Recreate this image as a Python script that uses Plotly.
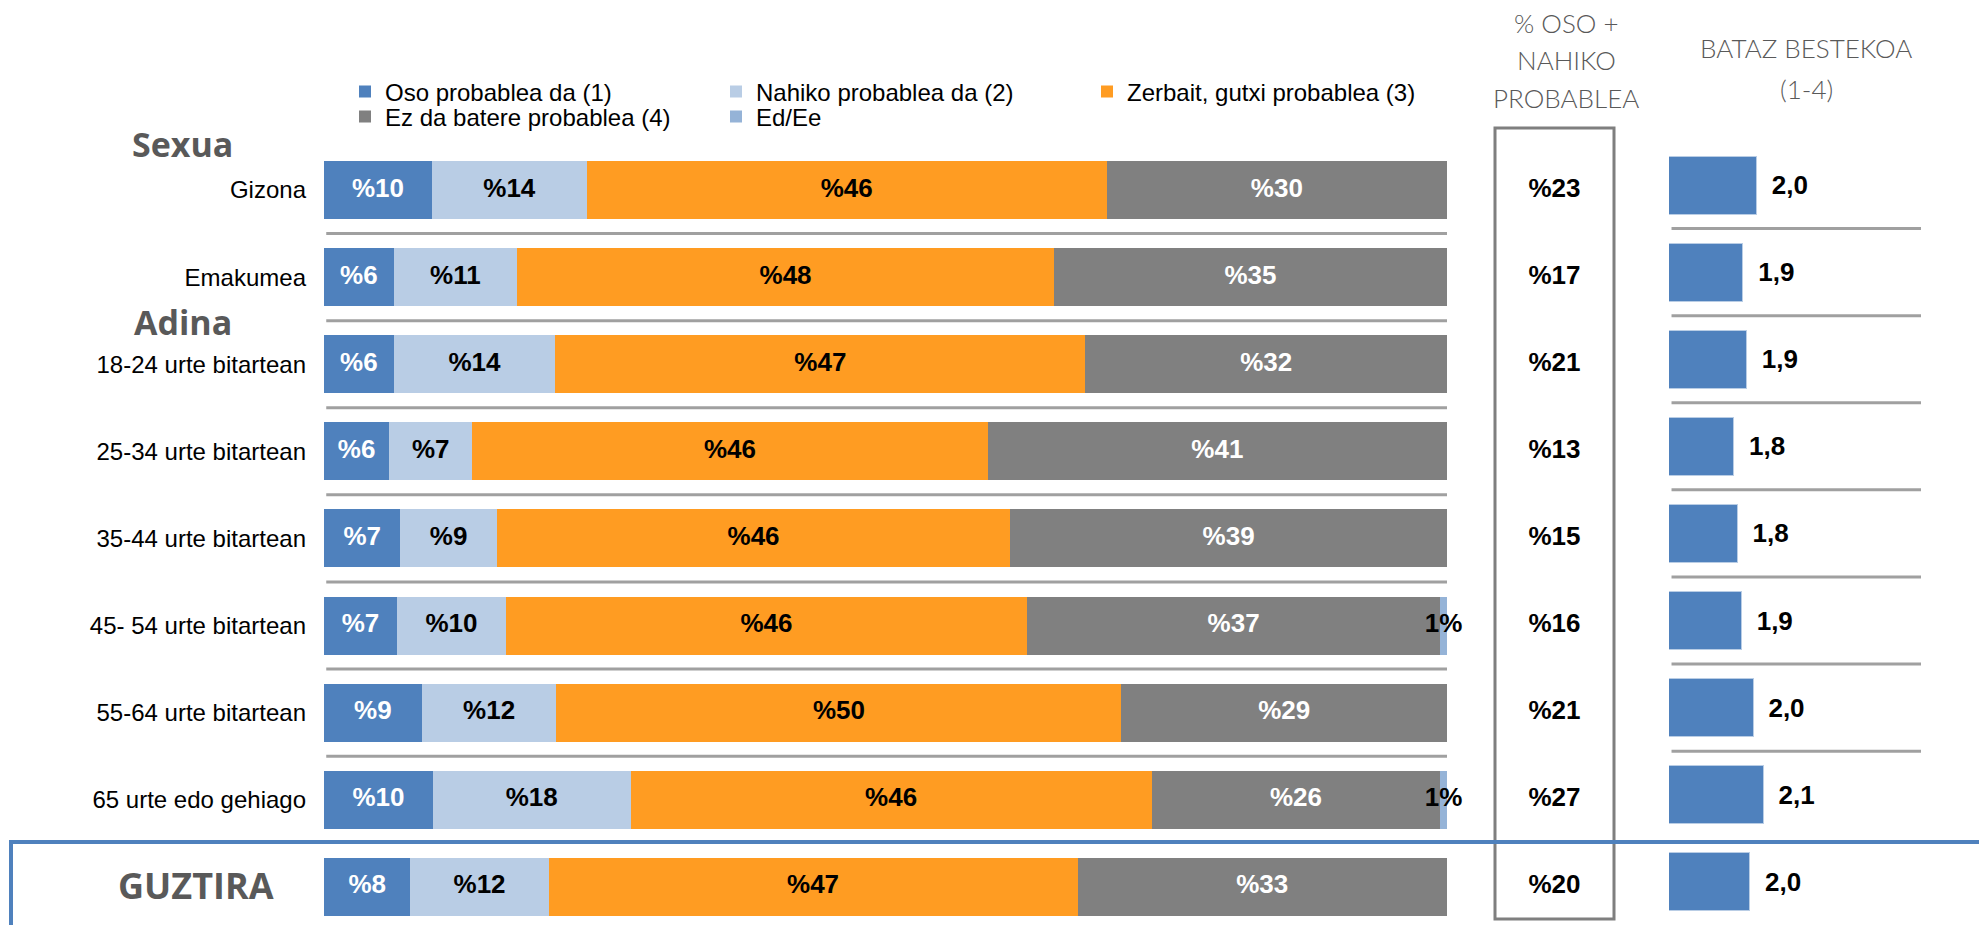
import math
import plotly.graph_objects as go

# ---------------- data ----------------
categories = ["Gizona", "Emakumea", "18-24 urte bitartean", "25-34 urte bitartean",
              "35-44 urte bitartean", "45- 54 urte bitartean", "55-64 urte bitartean",
              "65 urte edo gehiago", "GUZTIRA"]
series_names = ["Oso probablea da (1)", "Nahiko probablea da (2)",
                "Zerbait, gutxi probablea (3)", "Ez da batere probablea (4)", "Ed/Ee"]
oso = [9.6, 6.2, 6.2, 5.8, 6.8, 6.5, 8.7, 9.7, 7.7]
nahiko = [13.8, 11.0, 14.4, 7.4, 8.6, 9.7, 12.0, 17.6, 12.3]
zerbait = [46.3, 47.8, 47.2, 45.9, 45.7, 46.4, 50.3, 46.4, 47.1]
ez = [30.3, 35.0, 32.2, 40.9, 38.9, 36.8, 29.0, 25.7, 32.9]
edee = [0, 0, 0, 0, 0, 0.6, 0, 0.6, 0]
bataz = [2.04, 1.88, 1.92, 1.77, 1.81, 1.86, 2.00, 2.12, 1.96]

colors = ["#4F81BD", "#B9CDE5", "#FF9C22", "#808080", "#95B3D7"]
text_colors = ["white", "black", "black", "white", "black"]

W, H = 1987, 925
OFF = 8  # page body margin of the html page


def px(x):
    return (x - OFF) / W


def py(y):
    return 1 - (y - OFF) / H


def rnd(v):
    return int(math.floor(v + 0.5))


pos = list(range(len(categories)))
ROW0, PITCH = 190.0 - OFF, 87.1
FONT = "Liberation Sans, Arial, sans-serif"
LBL = 26

fig = go.Figure()

all_series = [oso, nahiko, zerbait, ez, edee]
cum = [0.0] * len(pos)
for k, (name, vals) in enumerate(zip(series_names, all_series)):
    fig.add_trace(go.Bar(
        y=pos, x=vals, name=name, orientation="h",
        marker=dict(color=colors[k], line=dict(width=0)),
        hoverinfo="skip", legend="legend" if k < 3 else "legend2",
        xaxis="x", yaxis="y",
    ))
    mids = [c + v / 2 for c, v in zip(cum, vals)]
    if k < 4:
        txt = ["%" + str(rnd(v)) for v in vals]
    else:
        txt = [(str(rnd(v)) + "%") if v > 0 else "" for v in vals]
    fig.add_trace(go.Scatter(
        x=mids, y=pos, mode="text", text=txt, textposition="middle center",
        textfont=dict(family=FONT, size=LBL, color=text_colors[k], weight="bold"),
        showlegend=False, hoverinfo="skip", cliponaxis=False,
        xaxis="x", yaxis="y",
    ))
    cum = [c + v for c, v in zip(cum, vals)]

# % oso + nahiko column
pct = ["%" + str(rnd(a + b)) for a, b in zip(oso, nahiko)]
fig.add_trace(go.Scatter(
    x=[0.5] * len(pos), y=pos, mode="text", text=pct, textposition="middle center",
    textfont=dict(family=FONT, size=LBL, color="black", weight="bold"),
    showlegend=False, hoverinfo="skip", xaxis="x2", yaxis="y",
))

# average bars
fig.add_trace(go.Bar(
    y=pos, x=bataz, orientation="h", showlegend=False,
    marker=dict(color="#4F81BD", line=dict(width=1, color="#B9CDE5")),
    text=["\u00a0\u2009" + f"{v:.1f}".replace(".", ",") for v in bataz],
    textposition="outside", constraintext="none", cliponaxis=False,
    textfont=dict(family=FONT, size=LBL, color="black", weight="bold"),
    hoverinfo="skip", xaxis="x3", yaxis="y2", width=0.666,
))

yr_main = [(H - ROW0) / PITCH, -ROW0 / PITCH]
ROW0b = 185.0 - OFF
yr_avg = [(H - ROW0b) / PITCH, -ROW0b / PITCH]

shapes = []
for i in range(7):
    shapes.append(dict(type="line", xref="x domain", yref="y", x0=0.002, x1=1,
                       y0=i + 0.5, y1=i + 0.5, line=dict(color="#A0A0A0", width=3)))
    shapes.append(dict(type="line", xref="x3 domain", yref="y2", x0=0.01, x1=1,
                       y0=i + 0.5, y1=i + 0.5, line=dict(color="#A0A0A0", width=3)))
# gray box around % column
shapes.append(dict(type="rect", xref="paper", yref="paper",
                   x0=px(1495), x1=px(1614), y0=py(919), y1=py(128),
                   line=dict(color="#7F7F7F", width=3), layer="above"))
# blue box around total row
shapes.append(dict(type="rect", xref="paper", yref="paper",
                   x0=px(11), x1=px(2010), y0=py(960), y1=py(842),
                   line=dict(color="#4F81BD", width=4), layer="above"))

ann = []
hdr = dict(family="Lato, sans-serif", size=26, color="#595959", weight=300)
for t, y in [("% OSO +", 23), ("NAHIKO", 60), ("PROBABLEA", 98)]:
    ann.append(dict(text=t, x=px(1566), y=py(y), xref="paper", yref="paper",
                    showarrow=False, xanchor="center", yanchor="middle", font=hdr))
for t, y in [("BATAZ BESTEKOA", 48), ("(1-4)", 89)]:
    ann.append(dict(text=t, x=px(1806), y=py(y), xref="paper", yref="paper",
                    showarrow=False, xanchor="center", yanchor="middle", font=hdr))
grp = dict(family="Open Sans, sans-serif", size=34, color="#595959", weight="bold")
ann.append(dict(text="Sexua", x=px(130), y=py(144), xref="paper", yref="paper",
                showarrow=False, xanchor="left", yanchor="middle", font=grp))
ann.append(dict(text="Adina", x=px(132), y=py(322), xref="paper", yref="paper",
                showarrow=False, xanchor="left", yanchor="middle", font=grp))
ann.append(dict(text=categories[-1], x=px(196), y=pos[-1], xref="paper", yref="y",
                showarrow=False, xanchor="center", yanchor="middle", yshift=1,
                font=dict(family="Open Sans, sans-serif", size=36, color="#595959",
                          weight="bold")))

legend_common = dict(orientation="h", xanchor="left", yanchor="middle",
                     entrywidth=326, entrywidthmode="pixels", bgcolor="rgba(0,0,0,0)",
                     font=dict(family=FONT, size=24, color="black"),
                     traceorder="normal", itemclick=False, itemdoubleclick=False,
                     tracegroupgap=0)

fig.update_layout(
    width=W, height=H, margin=dict(l=0, r=0, t=0, b=0),
    paper_bgcolor="white", plot_bgcolor="white",
    barmode="stack", bargap=0.334,
    shapes=shapes, annotations=ann,
    xaxis=dict(domain=[px(324), px(1447)], range=[0, 100], visible=False,
               fixedrange=True, anchor="y"),
    xaxis2=dict(domain=[px(1495), px(1614)], range=[0, 1], visible=False, anchor="y"),
    xaxis3=dict(domain=[px(1669), px(1921)], range=[1, 4], visible=False, anchor="y2"),
    yaxis=dict(domain=[0, 1], range=yr_main, tickvals=pos,
               ticktext=categories[:-1] + [""], showgrid=False, zeroline=False,
               showline=False, ticks="", ticklabelstandoff=17, automargin=False,
               tickfont=dict(family=FONT, size=24, color="black"), anchor="x"),
    yaxis2=dict(domain=[0, 1], range=yr_avg, visible=False, anchor="x3",
                overlaying="y"),
    legend=dict(x=px(345), y=py(92), **legend_common),
    legend2=dict(x=px(345), y=py(117), **legend_common),
)

fig.write_html("out.html")
